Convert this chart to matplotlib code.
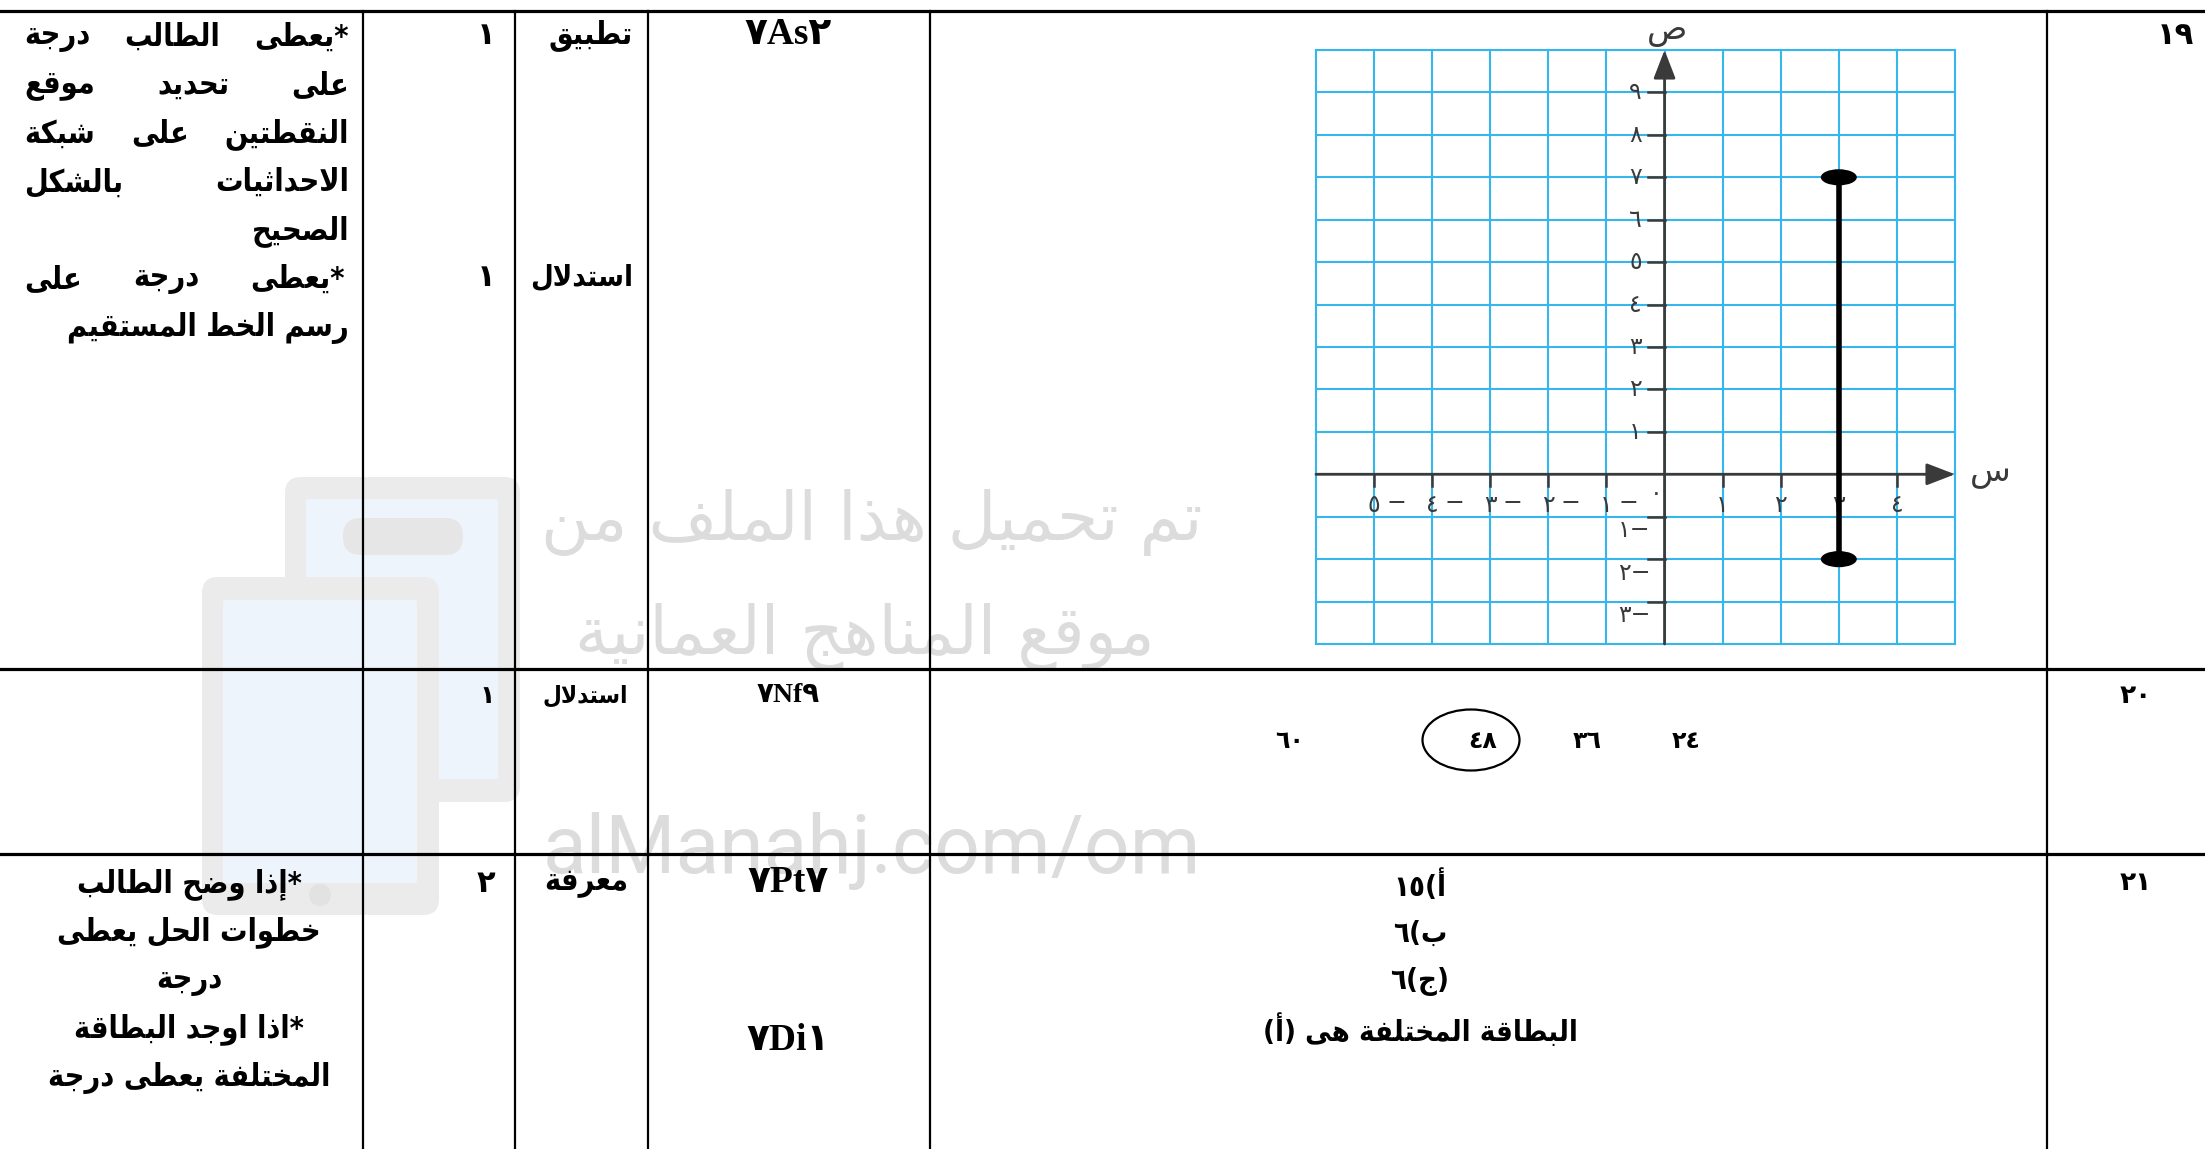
#Marking scheme page: questions 19-21 with the coordinate grid answer
import re
import numpy as np
import matplotlib
matplotlib.use('Agg')
import matplotlib.pyplot as plt
from matplotlib.patches import Ellipse, FancyBboxPatch

# ---- data ----
question_numbers = ['١٩', '٢٠', '٢١']
outcome_codes = [['٧As٢'], ['٧Nf٩'], ['٧Pt٧', '٧Di١']]
levels = [['تطبيق', 'استدلال'], ['استدلال'], ['معرفة']]
marks = [['١', '١'], ['١'], ['٢']]

rubric_19 = ['*يعطى الطالب درجة', 'على تحديد موقع', 'النقطتين على شبكة',
             'الاحداثيات بالشكل', 'الصحيح', '*يعطى درجة على', 'رسم الخط المستقيم']
rubric_19_justified = [True, True, True, True, False, True, False]
rubric_21 = ['*إذا وضح الطالب', 'خطوات الحل يعطى', 'درجة',
             '*اذا اوجد البطاقة', 'المختلفة يعطى درجة']

choices_20 = ['٦٠', '٤٨', '٣٦', '٢٤']
circled_20 = '٤٨'
answers_21 = ['أ)١٥', 'ب)٦', '(ج)٦', 'البطاقة المختلفة هى (أ)']

# segment drawn on the grid (question 19)
segment_x = [3, 3]
segment_y = [-2, 7]
x_ticks = [-5, -4, -3, -2, -1, 1, 2, 3, 4]
y_ticks = [-3, -2, -1, 1, 2, 3, 4, 5, 6, 7, 8, 9]
x_range = (-6, 5)
y_range = (-4, 10)

watermark = ['تم تحميل هذا الملف من', 'موقع المناهج العُمانية', 'alManahj.com/om']

# ---- arabic shaping (matplotlib has no shaping / bidi) ----
AR_FORMS = {'ء': (0xFE80, 1), 'آ': (0xFE81, 2), 'أ': (0xFE83, 2), 'ؤ': (0xFE85, 2),
            'إ': (0xFE87, 2), 'ئ': (0xFE89, 4), 'ا': (0xFE8D, 2), 'ب': (0xFE8F, 4),
            'ة': (0xFE93, 2), 'ت': (0xFE95, 4), 'ث': (0xFE99, 4), 'ج': (0xFE9D, 4),
            'ح': (0xFEA1, 4), 'خ': (0xFEA5, 4), 'د': (0xFEA9, 2), 'ذ': (0xFEAB, 2),
            'ر': (0xFEAD, 2), 'ز': (0xFEAF, 2), 'س': (0xFEB1, 4), 'ش': (0xFEB5, 4),
            'ص': (0xFEB9, 4), 'ض': (0xFEBD, 4), 'ط': (0xFEC1, 4), 'ظ': (0xFEC5, 4),
            'ع': (0xFEC9, 4), 'غ': (0xFECD, 4), 'ف': (0xFED1, 4), 'ق': (0xFED5, 4),
            'ك': (0xFED9, 4), 'ل': (0xFEDD, 4), 'م': (0xFEE1, 4), 'ن': (0xFEE5, 4),
            'ه': (0xFEE9, 4), 'و': (0xFEED, 2), 'ى': (0xFEEF, 2), 'ي': (0xFEF1, 4)}
LAM_ALEF = {'ا': 0xFEFB, 'أ': 0xFEF7, 'إ': 0xFEF9, 'آ': 0xFEF5}


def joins_next(c):
    return c in AR_FORMS and AR_FORMS[c][1] == 4


def shape(s):
    chars = [c for c in s if not ('\u064B' <= c <= '\u0652')]  # drop harakat
    out = []
    i = 0
    while i < len(chars):
        c = chars[i]
        if c not in AR_FORMS:
            out.append(c)
            i += 1
            continue
        link_prev = i > 0 and joins_next(chars[i-1])
        if c == 'ل' and i+1 < len(chars) and chars[i+1] in LAM_ALEF:
            out.append(chr(LAM_ALEF[chars[i+1]] + (1 if link_prev else 0)))
            i += 2
            continue
        link_next = joins_next(c) and i+1 < len(chars) and chars[i+1] in AR_FORMS
        base = AR_FORMS[c][0]
        if link_prev and link_next:
            base += 3
        elif link_prev:
            base += 1
        elif link_next:
            base += 2
        out.append(chr(base))
        i += 1
    return ''.join(out)


def visual(s):
    # right-to-left line: reverse everything except runs of digits / latin
    tokens = re.findall(r'[0-9A-Za-z\u0660-\u0669./]+|.', shape(s))
    mirror = {'(': ')', ')': '('}
    return ''.join(mirror.get(t, t) for t in tokens[::-1])


def ar_num(n):
    s = str(abs(n)).translate(str.maketrans('0123456789', '٠١٢٣٤٥٦٧٨٩'))
    return visual('−' + s) if n < 0 else s


# ---- figure ----
W, H = 2205, 1149
fig = plt.figure(figsize=(W/100, H/100), dpi=100)
tab = fig.add_axes([0, 0, 1, 1])
tab.set_xlim(0, W)
tab.set_ylim(H, 0)
tab.axis('off')

AR = ['DejaVu Sans']
SERIF = ['Liberation Serif', 'DejaVu Sans']

# watermark (behind everything)
grey, pale = '#ebebeb', '#eef4fc'
for (x, y, w, h, fc, r) in [(285, 477, 235, 325, grey, 16), (306, 499, 192, 280, pale, 2),
                            (343, 518, 120, 37, '#e6e6e6', 18),
                            (202, 577, 237, 338, grey, 16), (223, 600, 194, 283, pale, 2)]:
    tab.add_patch(FancyBboxPatch((x, y), w, h, boxstyle='round,pad=0,rounding_size=%d' % r,
                                 fc=fc, ec='none', zorder=0))
tab.add_patch(Ellipse((320, 895), 22, 22, fc='#e2e2e2', ec='none', zorder=0))
tab.text(872, 523, visual(watermark[0]), fontsize=48, family=AR, color='#dcdcdc',
         ha='center', va='center', zorder=0.5)
tab.text(865, 636, visual(watermark[1]), fontsize=48, family=AR, color='#dcdcdc',
         ha='center', va='center', zorder=0.5)
tab.text(872, 851, watermark[2], fontsize=58, family=['Roboto'], color='#dcdcdc',
         ha='center', va='center', zorder=0.5)

# table lines
col_lines = [363, 515, 648, 930, 2047]
row_lines = [11, 669, 854]
for x in col_lines:
    tab.plot([x, x], [row_lines[0], H], color='black', lw=1.6, zorder=2)
for y in row_lines:
    tab.plot([0, W], [y, y], color='black', lw=2.3, zorder=2)

row_top = [35, 696, 883]


def put(x, y, s, size, ha='center', bold=True, family=AR, color='black', stretch='normal'):
    return tab.text(x, y, s, fontsize=size, fontweight='bold' if bold else 'normal',
                    family=family, ha=ha, va='center', color=color, zorder=3,
                    fontstretch=stretch)


# question number, code, level, marks
for i in range(3):
    put(2194 if i == 0 else 2136, row_top[i], question_numbers[i], 22 if i == 0 else 19,
        ha='right' if i == 0 else 'center')
code_y = [[35], [696], [883, 1040]]
for i in range(3):
    for s, y in zip(outcome_codes[i], code_y[i]):
        put(788, y, s, 20 if i == 1 else 27, family=SERIF)
level_y = [[35, 278], [696], [883]]
level_size = [[22, 21], [17.5], [22]]
for i in range(3):
    for s, y, fs in zip(levels[i], level_y[i], level_size[i]):
        put(633 if i == 0 else 628, y, visual(s), fs, ha='right', stretch='condensed')
for i in range(3):
    for s, y in zip(marks[i], level_y[i]):
        put(495, y, s, 18 if i == 1 else 22, ha='right')

# rubric for question 19 (right aligned / justified lines)
renderer = fig.canvas.get_renderer()
x_l, x_r = 24, 349
rub_fs = 22
for k, (line, just) in enumerate(zip(rubric_19, rubric_19_justified)):
    y = 37 + k * 48.5
    if not just:
        put(x_r, y, visual(line), rub_fs, ha='right', stretch='condensed')
        continue
    words = line.split(' ')
    arts = [put(0, y, visual(w), rub_fs, ha='left', stretch='condensed') for w in words]
    widths = [a.get_window_extent(renderer).width for a in arts]
    right = x_r - (4 if k == 5 else 0)
    gap = (right - x_l - sum(widths)) / (len(words) - 1)
    x = right
    for a, w in zip(arts, widths):
        a.set_x(x - w)
        x -= w + gap

# rubric for question 21 (centred)
for k, line in enumerate(rubric_21):
    put(189, 884 + k * 48.5, visual(line), rub_fs, stretch='condensed')

# question 20 choices
choice_x = [1290, 1483, 1587, 1686]
for s, x in zip(choices_20, choice_x):
    put(x, 741, s, 17)
    if s == circled_20:
        tab.add_patch(Ellipse((1471, 740), 97, 61, fc='none', ec='black', lw=1.6, zorder=3))

# question 21 answer lines
for k, line in enumerate(answers_21):
    put(1420, 886 + k * 48, visual(line), 21, stretch='condensed')

# ---- coordinate grid (question 19) ----
ax = fig.add_axes([1316/W, 1 - 644/H, 639/W, 594/H])
ax.set_xlim(*x_range)
ax.set_ylim(*y_range)
ax.axis('off')
grid_c = '#35b6ec'
axis_c = '#3a3a3a'
for x in range(x_range[0], x_range[1] + 1):
    ax.axvline(x, color=grid_c, lw=1.5, clip_on=False, zorder=1)
for y in range(y_range[0], y_range[1] + 1):
    ax.axhline(y, color=grid_c, lw=1.5, clip_on=False, zorder=1)

arrow = dict(arrowstyle='-|>,head_length=0.7,head_width=0.27', color=axis_c, lw=2,
             shrinkA=0, shrinkB=0, mutation_scale=25)
ax.annotate('', xy=(0, y_range[1]), xytext=(0, y_range[0]), arrowprops=arrow, zorder=2)
ax.annotate('', xy=(x_range[1], 0), xytext=(x_range[0], 0), arrowprops=arrow, zorder=2)

tick_fs = 17
for y in y_ticks:
    ax.plot([-0.28, 0], [y, y], color=axis_c, lw=1.8, zorder=2)
    if y > 0:
        ax.text(-0.5, y, ar_num(y), fontsize=tick_fs, family=AR, color=axis_c, ha='center', va='center')
    else:
        ax.text(-0.52, y - 0.32, ar_num(y), fontsize=tick_fs, family=AR, color=axis_c, ha='center', va='center')
for x in x_ticks:
    ax.plot([x, x], [0, -0.28], color=axis_c, lw=1.8, zorder=2)
    if x > 0:
        ax.text(x, -0.72, ar_num(x), fontsize=tick_fs, family=AR, color=axis_c, ha='center', va='center')
    else:
        ax.text(x, -0.72, ar_num(abs(x)), fontsize=tick_fs, family=AR, color=axis_c, ha='center', va='center')
        ax.text(x + 0.38, -0.68, '−', fontsize=tick_fs, family=AR, color=axis_c, ha='center', va='center')
ax.text(-0.15, -0.45, ar_num(0), fontsize=tick_fs, family=AR, color=axis_c, ha='center', va='center')
ax.text(0.05, y_range[1] + 0.45, visual('ص'), fontsize=24, family=AR, color=axis_c, ha='center', va='center')
ax.text(x_range[1] + 0.6, 0.05, visual('س'), fontsize=24, family=AR, color=axis_c, ha='center', va='center')

ax.plot(segment_x, segment_y, color='black', lw=4, solid_capstyle='butt', zorder=4)
for px, py in zip(segment_x, segment_y):
    ax.add_patch(Ellipse((px, py), 0.62, 0.38, fc='black', ec='none', zorder=5))

fig.savefig('out.png', dpi=100)
